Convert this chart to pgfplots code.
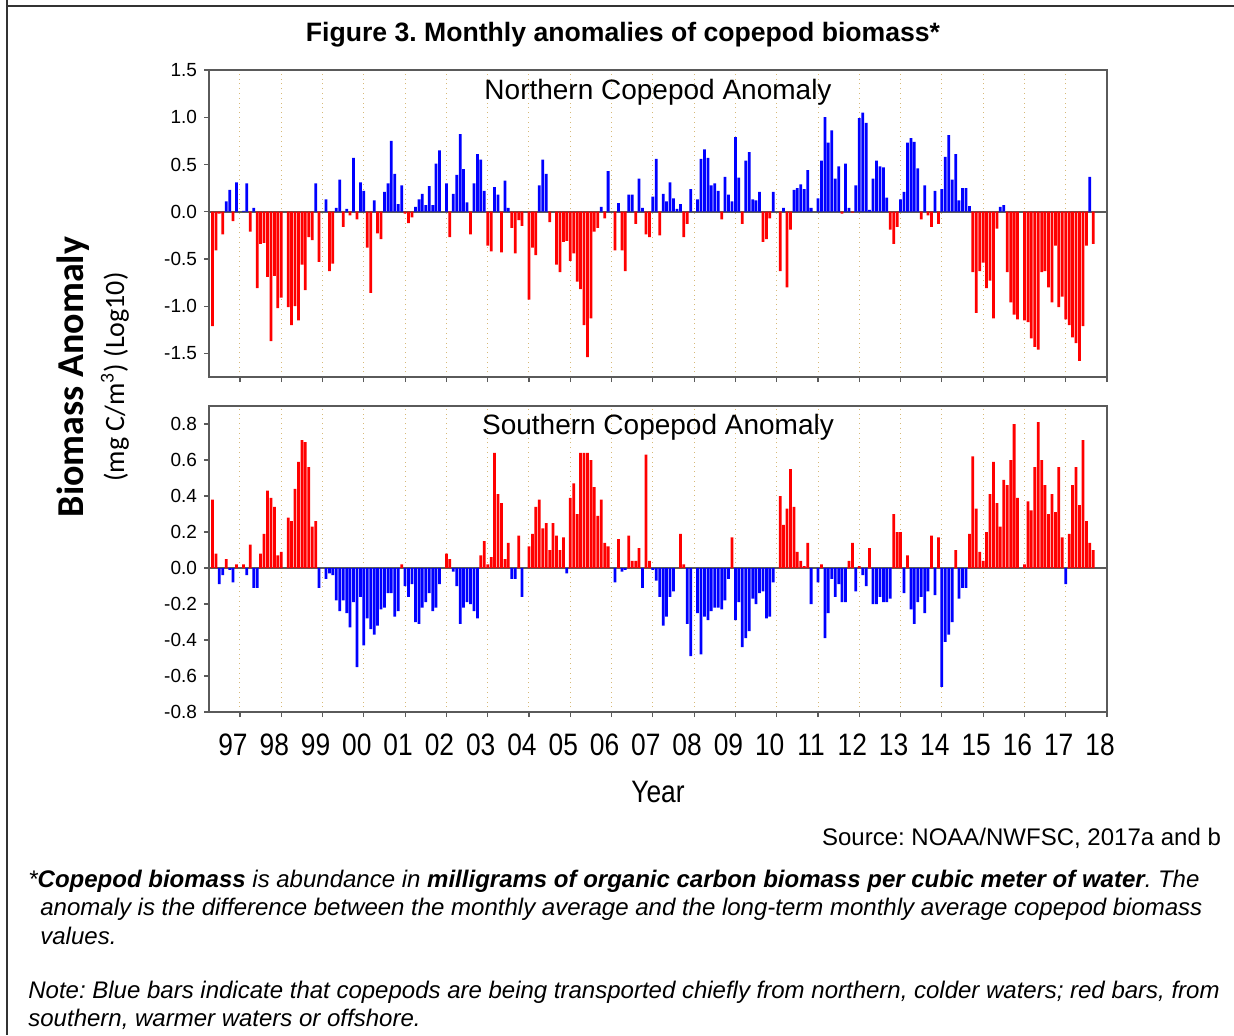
\documentclass[border=0pt]{standalone}
\usepackage{pgfplots}
\pgfplotsset{compat=1.18}
\usepackage{pgfplotstable}
\usepackage{fontspec}
\setmainfont{Liberation Sans}
\newfontfamily\narrowfont{Liberation Sans}[FakeStretch=0.85]
\newfontfamily\calibfont{Carlito}
\frenchspacing

\definecolor{barblue}{RGB}{0,0,255}
\definecolor{barred}{RGB}{255,0,0}
\definecolor{axisgray}{RGB}{90,90,90}
\definecolor{gridtan}{RGB}{215,185,120}

% month index: 0 = Jan 1997
\pgfplotstableread{
m v
-8 -1.21
-7 -0.41
-6 -0.02
-5 -0.24
-4 0.11
-3 0.23
-2 -0.10
-1 0.31
1 0.01
2 0.30
3 -0.21
4 0.04
5 -0.81
6 -0.34
7 -0.33
8 -0.69
9 -1.37
10 -0.68
11 -1.02
12 -0.91
14 -1.01
15 -1.20
16 -1.00
17 -1.15
18 -0.56
19 -0.83
20 -0.27
21 -0.30
22 0.30
23 -0.53
25 0.13
26 -0.63
27 -0.55
28 0.04
29 0.34
30 -0.16
31 0.03
32 -0.04
33 0.57
34 -0.08
35 0.31
36 0.22
37 -0.38
38 -0.86
39 0.12
40 -0.23
41 -0.29
42 0.21
43 0.30
44 0.75
45 0.40
46 0.08
47 0.28
48 -0.02
49 -0.12
50 -0.06
51 0.05
52 0.13
53 0.19
54 0.07
55 0.27
56 0.07
57 0.51
58 0.65
60 0.30
61 -0.27
62 0.19
63 0.39
64 0.82
65 0.45
66 0.10
67 -0.24
68 0.30
69 0.61
70 0.55
71 0.22
72 -0.36
73 -0.42
74 0.26
75 0.18
76 -0.43
77 0.33
78 0.04
79 -0.17
80 -0.44
81 -0.09
82 -0.15
84 -0.93
85 -0.38
86 -0.46
87 0.28
88 0.55
89 0.40
90 -0.11
92 -0.56
93 -0.64
94 -0.32
95 -0.31
96 -0.52
97 -0.44
98 -0.74
99 -0.82
100 -1.20
101 -1.54
102 -1.13
103 -0.21
104 -0.17
105 0.05
106 -0.07
107 0.43
109 -0.41
110 0.09
111 -0.41
112 -0.63
113 0.18
114 0.18
115 -0.13
116 0.35
117 0.04
118 -0.24
119 -0.27
120 0.16
121 0.56
122 -0.25
123 0.19
124 0.11
125 0.31
126 0.14
127 0.03
128 0.08
129 -0.27
130 -0.13
131 0.24
133 0.13
134 0.56
135 0.66
136 0.57
137 0.28
138 0.30
139 0.22
140 -0.08
141 0.37
142 0.18
143 0.11
144 0.79
145 0.36
146 -0.13
147 0.54
148 0.63
149 0.13
150 0.12
151 0.21
152 -0.32
153 -0.29
154 -0.07
155 0.21
157 -0.63
158 0.04
159 -0.80
160 -0.19
161 0.23
162 0.25
163 0.29
164 0.24
165 0.44
166 0.04
168 0.14
169 0.54
170 1.00
171 0.73
172 0.86
173 0.35
174 0.48
175 -0.02
176 0.51
177 0.04
178 -0.01
179 0.28
180 0.99
181 1.05
182 0.94
183 0.02
184 0.35
185 0.54
186 0.48
187 0.47
188 0.15
189 -0.19
190 -0.34
191 -0.16
192 0.13
193 0.21
194 0.73
195 0.78
196 0.74
197 0.46
198 -0.08
199 0.28
200 -0.04
201 -0.16
202 0.22
203 -0.13
204 0.24
205 0.58
206 0.81
207 0.34
208 0.61
209 0.12
210 0.25
211 0.25
212 0.06
213 -0.64
214 -1.07
215 -0.63
216 -0.54
217 -0.81
218 -0.73
219 -1.13
220 -0.18
221 0.05
222 0.07
223 -0.64
224 -0.96
225 -1.09
226 -1.14
228 -1.15
229 -1.17
230 -1.34
231 -1.43
232 -1.46
233 -0.64
234 -0.63
235 -0.80
236 -0.96
237 -0.36
238 -1.01
239 -0.90
240 -1.14
241 -1.20
242 -1.33
243 -1.39
244 -1.58
245 -1.21
246 -0.36
247 0.37
248 -0.34
}\northdata

\pgfplotstableread{
m v
-8 0.38
-7 0.08
-6 -0.09
-5 -0.04
-4 0.05
-3 -0.01
-2 -0.08
-1 0.02
1 0.02
2 -0.04
3 0.13
4 -0.11
5 -0.11
6 0.08
7 0.19
8 0.43
9 0.39
10 0.34
11 0.07
12 0.09
14 0.28
15 0.26
16 0.44
17 0.59
18 0.71
19 0.70
20 0.56
21 0.23
22 0.26
23 -0.11
25 -0.06
26 -0.03
27 -0.04
28 -0.18
29 -0.24
30 -0.18
31 -0.25
32 -0.33
33 -0.19
34 -0.55
35 -0.16
36 -0.43
37 -0.28
38 -0.34
39 -0.37
40 -0.32
41 -0.23
42 -0.22
43 -0.14
44 -0.14
45 -0.27
46 -0.24
47 0.02
48 -0.10
49 -0.16
50 -0.09
51 -0.30
52 -0.31
53 -0.22
54 -0.19
55 -0.14
56 -0.24
57 -0.22
58 -0.09
60 0.08
61 0.05
62 -0.02
63 -0.10
64 -0.31
65 -0.22
66 -0.19
67 -0.20
68 -0.24
69 -0.28
70 0.07
71 0.15
72 0.02
73 0.06
74 0.64
75 0.41
76 0.36
77 0.05
78 0.14
79 -0.06
80 -0.06
81 0.18
82 -0.16
84 0.12
85 0.19
86 0.34
87 0.38
88 0.22
89 0.25
90 0.10
91 0.25
92 0.18
93 0.10
94 0.17
95 -0.03
96 0.39
97 0.47
98 0.30
99 0.64
100 0.64
101 0.64
102 0.60
103 0.45
104 0.29
105 0.38
106 0.14
107 0.12
109 -0.08
110 0.16
111 -0.02
112 -0.01
113 0.18
114 0.04
115 0.04
116 0.11
117 -0.11
118 0.63
119 0.04
120 -0.01
121 -0.07
122 -0.16
123 -0.32
124 -0.27
125 -0.16
126 -0.13
128 0.19
129 0.02
130 -0.31
131 -0.49
133 -0.25
134 -0.48
135 -0.27
136 -0.29
137 -0.24
138 -0.22
139 -0.22
140 -0.23
141 -0.18
142 -0.06
143 0.17
144 -0.29
145 -0.19
146 -0.44
147 -0.39
148 -0.35
149 -0.17
150 -0.20
151 -0.14
152 -0.13
153 -0.28
154 -0.27
155 -0.08
157 0.40
158 0.24
159 0.33
160 0.55
161 0.34
162 0.09
163 0.04
164 0.01
165 0.14
166 -0.20
168 -0.08
169 0.02
170 -0.39
171 -0.25
172 -0.06
173 -0.16
174 -0.09
175 -0.19
176 -0.19
177 0.04
178 0.14
179 -0.13
180 0.01
181 -0.04
182 -0.10
183 0.11
184 -0.20
185 -0.20
186 -0.16
187 -0.19
188 -0.19
189 -0.17
190 0.30
191 0.20
192 0.20
193 -0.14
194 0.07
195 -0.23
196 -0.31
197 -0.19
198 -0.16
199 -0.25
200 -0.13
201 0.18
202 -0.15
203 0.17
204 -0.66
205 -0.41
206 -0.37
207 -0.30
208 0.10
209 -0.17
210 -0.11
211 -0.11
212 0.19
213 0.62
214 0.33
215 0.09
216 0.04
217 0.20
218 0.41
219 0.59
220 0.36
221 0.23
222 0.49
223 0.46
224 0.60
225 0.80
226 0.39
228 0.02
229 0.37
230 0.32
231 0.56
232 0.81
233 0.60
234 0.46
235 0.30
236 0.41
237 0.31
238 0.56
239 0.17
240 -0.09
241 0.19
242 0.46
243 0.56
244 0.35
245 0.71
246 0.26
247 0.14
248 0.10
}\southdata

\pgfplotsset{
  copepod/.style={
    scale only axis, width=449pt,
    xmin=-9, xmax=252,
    xtick={0,12,...,252},
    tick align=outside, tick pos=left,
    major tick length=2.5pt,
    xmajorgrids,
    major x grid style={gridtan, dotted, line width=0.5pt},
    axis line style={axisgray, line width=0.8pt},
    every tick/.style={axisgray, line width=0.6pt},
    yticklabel style={font=\fontsize{9.5}{11}\selectfont},
    /pgf/number format/assume math mode=true,
    /pgf/number format/fixed,
    /pgf/number format/fixed zerofill,
    /pgf/number format/precision=1,
    extra y ticks={0}, extra y tick labels={},
    extra y tick style={grid=major, major grid style={axisgray, line width=0.9pt}},
  },
  posbar/.style={ybar, bar width=0.8, bar shift=0pt, draw=none, fill=#1,
    y filter/.expression={y>0 ? y : nan}},
  negbar/.style={ybar, bar width=0.8, bar shift=0pt, draw=none, fill=#1,
    y filter/.expression={y<0 ? y : nan}},
}

\begin{document}
\begin{tikzpicture}
\useasboundingbox (0pt,0pt) rectangle (617pt,-517.5pt);
\draw[line width=0.9pt, black!80] (3.5pt,0pt) -- (3.5pt,-517.5pt);
\draw[line width=0.9pt, black!80] (3.5pt,-3pt) -- (617pt,-3pt);

\node[font=\bfseries\fontsize{13.3}{15}\selectfont] at (311.5pt,-17.5pt)
  {Figure 3. Monthly anomalies of copepod biomass*};

\begin{axis}[copepod, at={(104.5pt,-188.5pt)}, anchor=south west,
  height=153.5pt, ymin=-1.75, ymax=1.5,
  ytick={-1.5,-1,-0.5,0,0.5,1,1.5}, xticklabels={}]
\addplot[posbar=barblue] table[x=m,y=v]{\northdata};
\addplot[negbar=barred] table[x=m,y=v]{\northdata};
\node[font=\fontsize{14}{16}\selectfont] at (rel axis cs:0.5,0.928) {Northern Copepod Anomaly};
\end{axis}

\begin{axis}[copepod, at={(104.5pt,-356pt)}, anchor=south west,
  height=153pt, ymin=-0.8, ymax=0.9,
  ytick={-0.8,-0.6,-0.4,-0.2,0,0.2,0.4,0.6,0.8},
  xticklabels={97,98,99,00,01,02,03,04,05,06,07,08,09,10,11,12,13,14,15,16,17,18},
  xticklabel style={font=\narrowfont\fontsize{15.5}{17}\selectfont, yshift=-5pt, xshift=-3.5pt}]
\addplot[posbar=barred] table[x=m,y=v]{\southdata};
\addplot[negbar=barblue] table[x=m,y=v]{\southdata};
\node[font=\fontsize{14}{16}\selectfont] at (rel axis cs:0.5,0.932) {Southern Copepod Anomaly};
\end{axis}

\node[rotate=90, font=\calibfont\bfseries\fontsize{19}{21}\selectfont] at (36.5pt,-188.5pt) {Biomass Anomaly};
\node[rotate=90, font=\calibfont\fontsize{14}{16}\selectfont] at (57.5pt,-188.5pt) {(mg C/m\textsuperscript{3}) (Log10)};
\node[font=\narrowfont\fontsize{15.5}{17}\selectfont] at (329pt,-396pt) {Year};
\node[anchor=east, font=\fontsize{12}{14}\selectfont] at (614pt,-419pt) {Source: NOAA/NWFSC, 2017a and b};

\begin{scope}[every node/.style={anchor=west, inner sep=0pt, font=\itshape\fontsize{12}{14}\selectfont}]
\node at (14pt,-440.5pt) {*\textbf{Copepod biomass} is abundance in \textbf{milligrams of organic carbon biomass per cubic meter of water}. The};
\node at (20pt,-454.5pt) {anomaly is the difference between the monthly average and the long-term monthly average copepod biomass};
\node at (20pt,-468pt) {values.};
\node at (14pt,-496pt) {Note: Blue bars indicate that copepods are being transported chiefly from northern, colder waters; red bars, from};
\node at (14pt,-509.5pt) {southern, warmer waters or offshore.};
\end{scope}
\end{tikzpicture}
\end{document}
